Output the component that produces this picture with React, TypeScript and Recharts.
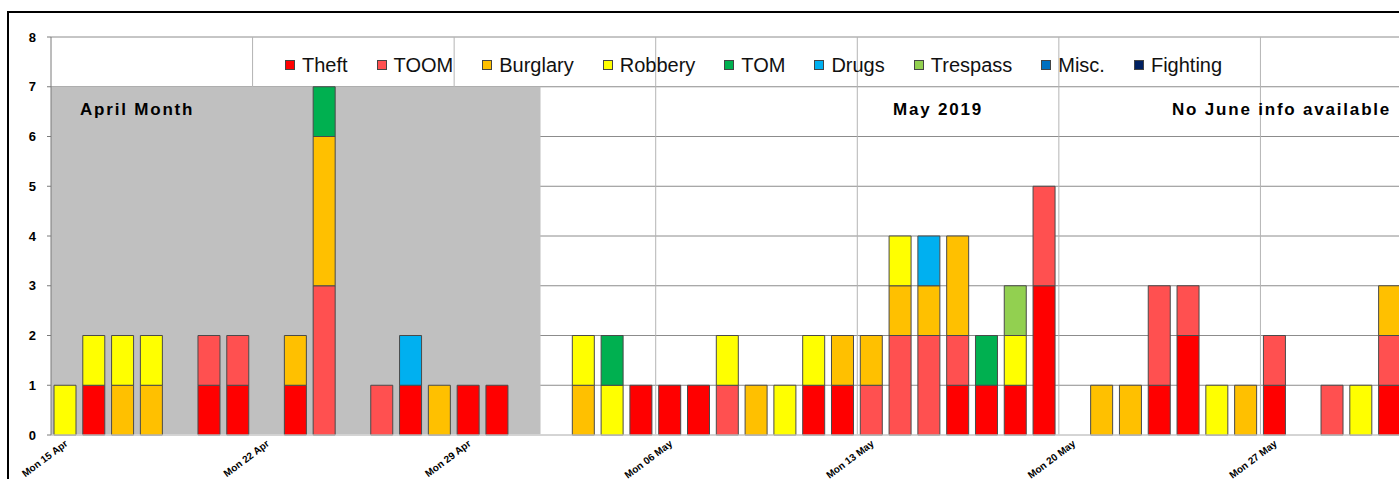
import { BarChart, Bar, XAxis, YAxis, CartesianGrid, ReferenceArea, ReferenceLine } from 'recharts';

const days = [
  'Mon 15 Apr', 'Tue 16 Apr', 'Wed 17 Apr', 'Thu 18 Apr', 'Fri 19 Apr', 'Sat 20 Apr', 'Sun 21 Apr',
  'Mon 22 Apr', 'Tue 23 Apr', 'Wed 24 Apr', 'Thu 25 Apr', 'Fri 26 Apr', 'Sat 27 Apr', 'Sun 28 Apr',
  'Mon 29 Apr', 'Tue 30 Apr', 'Wed 01 May', 'Thu 02 May', 'Fri 03 May', 'Sat 04 May', 'Sun 05 May',
  'Mon 06 May', 'Tue 07 May', 'Wed 08 May', 'Thu 09 May', 'Fri 10 May', 'Sat 11 May', 'Sun 12 May',
  'Mon 13 May', 'Tue 14 May', 'Wed 15 May', 'Thu 16 May', 'Fri 17 May', 'Sat 18 May', 'Sun 19 May',
  'Mon 20 May', 'Tue 21 May', 'Wed 22 May', 'Thu 23 May', 'Fri 24 May', 'Sat 25 May', 'Sun 26 May',
  'Mon 27 May', 'Tue 28 May', 'Wed 29 May', 'Thu 30 May', 'Fri 31 May', 'Sat 01 Jun', 'Sun 02 Jun',
];

const mondays = ['Mon 22 Apr', 'Mon 29 Apr', 'Mon 06 May', 'Mon 13 May', 'Mon 20 May', 'Mon 27 May'];

const theft = [0,1,0,0,0,1,1,0,1,0, 0,0,1,0,1,1,0,0,0,0, 1,1,1,0,0,0,1,1,0,0, 0,1,1,1,3,0,0,0,1,2, 0,0,1,0,0,0,1,0,0];
const toom = [0,0,0,0,0,1,1,0,0,3, 0,1,0,0,0,0,0,0,0,0, 0,0,0,1,0,0,0,0,1,2, 2,1,0,0,2,0,0,0,2,1, 0,0,1,0,1,0,1,0,0];
const burglary = [0,0,1,1,0,0,0,0,1,3, 0,0,0,1,0,0,0,0,1,0, 0,0,0,0,1,0,0,1,1,1, 1,2,0,0,0,0,1,1,0,0, 0,1,0,0,0,0,1,0,0];
const robbery = [1,1,1,1,0,0,0,0,0,0, 0,0,0,0,0,0,0,0,1,1, 0,0,0,1,0,1,1,0,0,1, 0,0,0,1,0,0,0,0,0,0, 1,0,0,0,0,1,0,0,0];
const tom = [0,0,0,0,0,0,0,0,0,1, 0,0,0,0,0,0,0,0,0,1, 0,0,0,0,0,0,0,0,0,0, 0,0,1,0,0,0,0,0,0,0, 0,0,0,0,0,0,0,0,0];
const drugs = [0,0,0,0,0,0,0,0,0,0, 0,0,1,0,0,0,0,0,0,0, 0,0,0,0,0,0,0,0,0,0, 1,0,0,0,0,0,0,0,0,0, 0,0,0,0,0,0,0,0,0];
const trespass = [0,0,0,0,0,0,0,0,0,0, 0,0,0,0,0,0,0,0,0,0, 0,0,0,0,0,0,0,0,0,0, 0,0,0,1,0,0,0,0,0,0, 0,0,0,0,0,0,0,0,0];
const misc = days.map(() => 0);
const fighting = days.map(() => 0);

const series = [
  { key: 'Theft', values: theft, color: '#FF0000' },
  { key: 'TOOM', values: toom, color: '#FF5050' },
  { key: 'Burglary', values: burglary, color: '#FFC000' },
  { key: 'Robbery', values: robbery, color: '#FFFF00' },
  { key: 'TOM', values: tom, color: '#00B050' },
  { key: 'Drugs', values: drugs, color: '#00B0F0' },
  { key: 'Trespass', values: trespass, color: '#92D050' },
  { key: 'Misc.', values: misc, color: '#0070C0' },
  { key: 'Fighting', values: fighting, color: '#002060' },
];

const data = days.map((day, i) => {
  const row: Record<string, string | number> = { day };
  series.forEach(s => { row[s.key] = s.values[i]; });
  return row;
});

const FONT = '"Liberation Sans", Arial, sans-serif';

function DayTick({ x, y, payload }: any) {
  const tx = x + 3;
  const ty = y + 10;
  return (
    <text x={tx} y={ty} textAnchor="end" transform={`rotate(-37, ${tx}, ${ty})`}
      fontSize={10} fontWeight="bold" fill="#000" fontFamily={FONT}>
      {payload.value}
    </text>
  );
}

const noteStyle = {
  position: 'absolute' as const,
  top: 101,
  fontFamily: FONT,
  fontWeight: 'bold' as const,
  fontSize: 17,
  lineHeight: '17px',
  letterSpacing: 1.8,
  color: '#000',
  whiteSpace: 'nowrap' as const,
};

export default function App() {
  return (
    <div style={{ position: 'relative', width: 1399, height: 479, overflow: 'hidden', background: '#fff' }}>
      <style>{`html,body{margin:0;padding:0;overflow:hidden}`}</style>
      <div style={{ position: 'absolute', left: 7, top: 11, width: 2000, height: 1000, borderLeft: '2px solid #000', borderTop: '2px solid #000' }} />
      <div style={{ position: 'absolute', left: 0, top: 0 }}>
        <BarChart width={1470} height={479} data={data} barSize={22}
          margin={{ top: 37, right: 8, left: 11, bottom: 0 }}>
          <CartesianGrid vertical={false} stroke="#8c8c8c" />
          {mondays.map(m => (
            <ReferenceLine key={m} x={m} position="start" stroke="#b4b4b4" zIndex={-60} />
          ))}
          <ReferenceArea x1="Mon 15 Apr" x2="Wed 01 May" y1={0} y2={7} fill="#c0c0c0" fillOpacity={1}
            stroke="none" zIndex={-40} />
          <XAxis dataKey="day" interval={6} tick={<DayTick />} tickLine={false} tickSize={0} tickMargin={0}
            height={44} axisLine={{ stroke: '#e4e4e4' }} />
          <YAxis domain={[0, 8]} ticks={[0, 1, 2, 3, 4, 5, 6, 7, 8]} width={40} tickSize={4} tickMargin={11}
            axisLine={{ stroke: '#7a7a7a' }} tickLine={{ stroke: '#7a7a7a' }}
            tick={{ fontSize: 13, fontWeight: 'bold', fill: '#000', fontFamily: FONT }} />
          {series.map(s => (
            <Bar key={s.key} dataKey={s.key} stackId="a" fill={s.color} stroke="#4a4a4a" strokeWidth={1}
              isAnimationActive={false} />
          ))}
        </BarChart>
      </div>
      <div style={{ ...noteStyle, left: 80 }}>April Month</div>
      <div style={{ ...noteStyle, left: 893 }}>May 2019</div>
      <div style={{ ...noteStyle, left: 1172 }}>No June info available</div>
      <div style={{ position: 'absolute', left: 285, top: 55, display: 'flex', alignItems: 'center', fontFamily: FONT, fontSize: 20, lineHeight: '20px', color: '#111', whiteSpace: 'nowrap' }}>
        {series.map(s => (
          <div key={s.key} style={{ display: 'flex', alignItems: 'center', marginRight: 29 }}>
            <span style={{ display: 'inline-block', width: 8, height: 8, background: s.color, border: '1px solid #444', marginRight: 7 }} />
            <span>{s.key}</span>
          </div>
        ))}
      </div>
    </div>
  );
}
